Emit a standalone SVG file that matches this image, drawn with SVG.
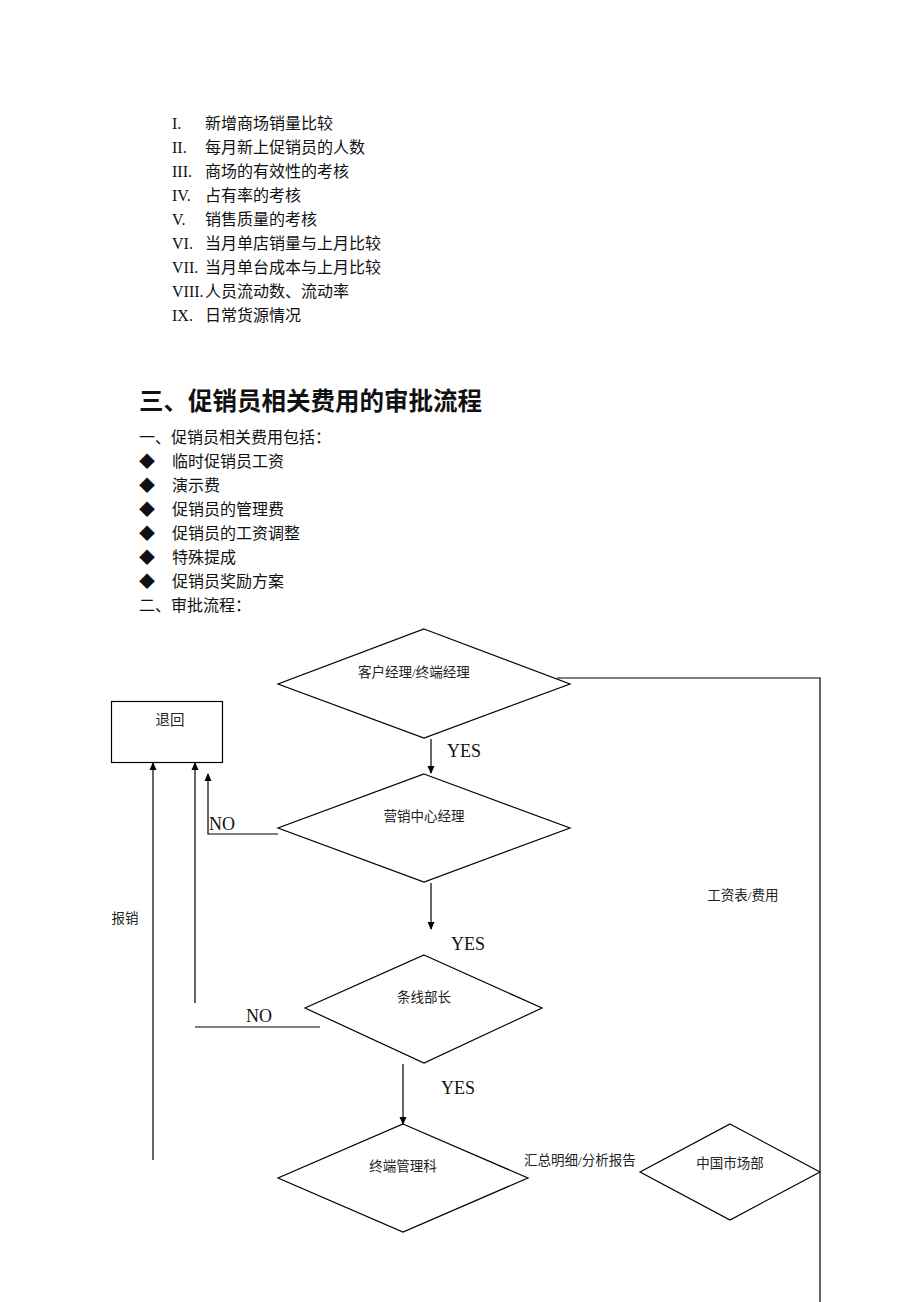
<svg xmlns="http://www.w3.org/2000/svg" width="920" height="1302" viewBox="0 0 920 1302">
<style>
.t{font-family:"Liberation Serif","Noto Sans CJK SC",serif;fill:#111}
.l{font-size:16px}
.h{font-family:"Noto Sans CJK SC",sans-serif;font-size:24.5px;font-weight:bold;fill:#111}
.n{font-family:"Liberation Serif","Noto Sans CJK SC",serif;font-size:13.5px;fill:#222;text-anchor:middle}
.y{font-family:"Liberation Serif",serif;font-size:18px;fill:#111}
.s{fill:#fff;stroke:#000;stroke-width:1.2}
.c{fill:none;stroke:#000;stroke-width:1.2}
</style>
<defs>
<marker id="ah" markerWidth="8" markerHeight="8" refX="7" refY="4" orient="auto" markerUnits="userSpaceOnUse">
<path d="M0,0.5 L8,4 L0,7.5 Z" fill="#000"/>
</marker>
</defs>
<g id="list" class="t l">
<text x="172" y="129">I.</text><text x="205" y="129">新增商场销量比较</text>
<text x="172" y="153">II.</text><text x="205" y="153">每月新上促销员的人数</text>
<text x="172" y="177">III.</text><text x="205" y="177">商场的有效性的考核</text>
<text x="172" y="201">IV.</text><text x="205" y="201">占有率的考核</text>
<text x="172" y="225">V.</text><text x="205" y="225">销售质量的考核</text>
<text x="172" y="249">VI.</text><text x="205" y="249">当月单店销量与上月比较</text>
<text x="172" y="273">VII.</text><text x="205" y="273">当月单台成本与上月比较</text>
<text x="172" y="297">VIII.</text><text x="205" y="297">人员流动数、流动率</text>
<text x="172" y="321">IX.</text><text x="205" y="321">日常货源情况</text>
</g>
<g id="heading"><text class="h" x="139" y="410">三、促销员相关费用的审批流程</text></g>
<g id="costs" class="t l">
<text x="139" y="443">一、促销员相关费用包括：</text>
<text x="139" y="467">◆</text><text x="172" y="467">临时促销员工资</text>
<text x="139" y="491">◆</text><text x="172" y="491">演示费</text>
<text x="139" y="515">◆</text><text x="172" y="515">促销员的管理费</text>
<text x="139" y="539">◆</text><text x="172" y="539">促销员的工资调整</text>
<text x="139" y="563">◆</text><text x="172" y="563">特殊提成</text>
<text x="139" y="587">◆</text><text x="172" y="587">促销员奖励方案</text>
<text x="139" y="611">二、审批流程：</text>
</g>
<g id="connectors">
<polyline class="c" points="557,678 820,678 820,1302"/>
<line class="c" x1="431" y1="739" x2="431" y2="773" marker-end="url(#ah)"/>
<polyline class="c" points="278,834 208,834 208,774" marker-end="url(#ah)"/>
<line class="c" x1="431" y1="883" x2="431" y2="929" marker-end="url(#ah)"/>
<polyline class="c" points="320,1027 195,1027"/>
<line class="c" x1="195" y1="1003" x2="195" y2="763" marker-end="url(#ah)"/>
<line class="c" x1="153" y1="1160" x2="153" y2="763" marker-end="url(#ah)"/>
<line class="c" x1="403" y1="1064" x2="403" y2="1124" marker-end="url(#ah)"/>
<text class="y" x="447" y="757">YES</text>
<text class="y" x="209" y="830">NO</text>
<text class="y" x="451" y="950">YES</text>
<text class="y" x="246" y="1022">NO</text>
<text class="y" x="441" y="1094">YES</text>
<text class="n" x="125" y="923">报销</text>
<text class="n" x="743" y="900">工资表/费用</text>
<text class="n" x="580" y="1165">汇总明细/分析报告</text>
</g>
<g id="node-return"><rect class="s" x="111.5" y="701.5" width="111" height="61"/><text class="n" x="170" y="725" style="font-size:14.5px">退回</text></g>
<g id="node-account"><polygon class="s" points="424,629 570,684 424,738 278,684"/><text class="n" x="414" y="677">客户经理/终端经理</text></g>
<g id="node-marketing"><polygon class="s" points="424,774 570,828 424,882 278,828"/><text class="n" x="424" y="821">营销中心经理</text></g>
<g id="node-line"><polygon class="s" points="424,955 542,1008 424,1063 305,1008"/><text class="n" x="424" y="1002">条线部长</text></g>
<g id="node-terminal"><polygon class="s" points="403,1124 528,1178 403,1232 278,1178"/><text class="n" x="403" y="1171">终端管理科</text></g>
<g id="node-china"><polygon class="s" points="730,1124 820,1172 730,1220 640,1172"/><text class="n" x="730" y="1168">中国市场部</text></g>
</svg>
